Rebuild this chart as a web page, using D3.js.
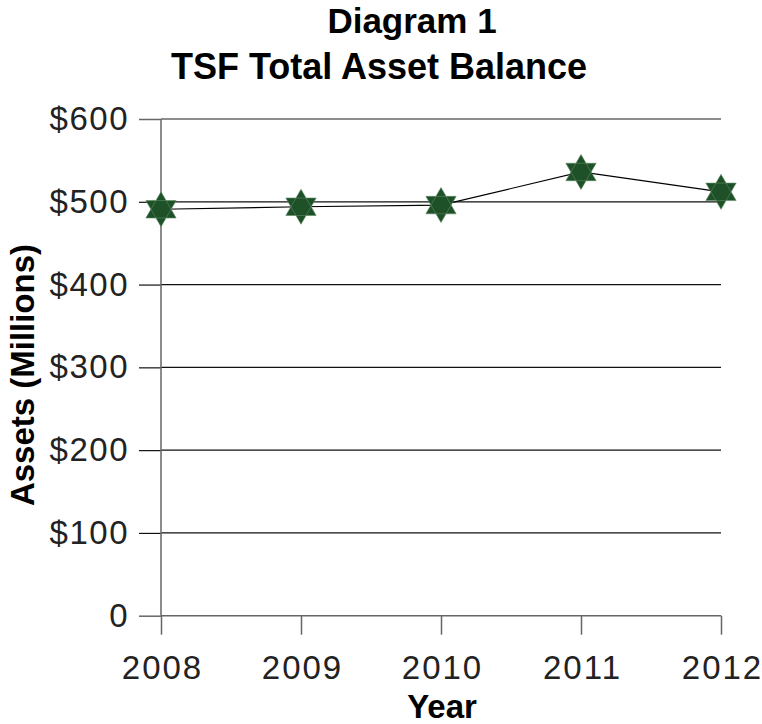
<!DOCTYPE html>
<html lang="en">
<head>
  <meta charset="UTF-8">
  <script src="https://d3js.org/d3.v7.min.js"></script>
  <style>
    body {
      margin: 0;
      padding: 0;
      background-color: #fff;
      font-family: "Liberation Sans", Arial, sans-serif;
    }
    .tick text {
      font-family: "Liberation Sans", Arial, sans-serif;
      fill: #222;
    }
  </style>
</head>
<body>
  <div id="chart"></div>

  <script>
    // data
    const years = ["2008", "2009", "2010", "2011", "2012"];
    const assets = [491, 494, 496, 536, 512];
    const yTicks = [0, 100, 200, 300, 400, 500, 600];

    const width = 762, height = 724;
    const margin = { left: 161, right: 41, top: 119, bottom: 108.3 };

    const svg = d3.select("#chart")
      .append("svg")
      .attr("width", width)
      .attr("height", height);

    const x = d3.scalePoint()
      .domain(years)
      .range([margin.left, width - margin.right]);

    const y = d3.scaleLinear()
      .domain([0, 600])
      .range([height - margin.bottom, margin.top]);

    // horizontal gridlines
    svg.append("g")
      .selectAll("line")
      .data(yTicks)
      .enter()
      .append("line")
      .attr("x1", margin.left)
      .attr("x2", width - margin.right)
      .attr("y1", d => y(d))
      .attr("y2", d => y(d))
      .attr("stroke", d => (d === 0 || d === 600) ? "#666" : "#111")
      .attr("stroke-width", d => (d === 0 || d === 600) ? 1.5 : 1.2);

    // y axis (ticks stick out to the left)
    const yAxis = svg.append("g")
      .attr("transform", `translate(${margin.left},0)`)
      .call(d3.axisLeft(y)
        .tickValues(yTicks)
        .tickSize(22)
        .tickPadding(10)
        .tickFormat(d => d === 0 ? "0" : "$" + d));
    yAxis.select(".domain").remove();
    yAxis.selectAll(".tick line")
      .attr("stroke", d => (d === 0 || d === 600) ? "#666" : "#111")
      .attr("stroke-width", d => (d === 0 || d === 600) ? 1.5 : 1.2);
    yAxis.selectAll(".tick text")
      .attr("font-size", 33)
      .attr("letter-spacing", 1.5);

    svg.append("line")
      .attr("x1", margin.left)
      .attr("x2", margin.left)
      .attr("y1", y(600))
      .attr("y2", y(0))
      .attr("stroke", "#666")
      .attr("stroke-width", 1.5);

    // x axis
    const xAxis = svg.append("g")
      .attr("transform", `translate(0,${y(0)})`)
      .call(d3.axisBottom(x).tickSize(19).tickPadding(21));
    xAxis.select(".domain").remove();
    xAxis.selectAll(".tick line").attr("stroke", "#666").attr("stroke-width", 1.5);
    xAxis.selectAll(".tick text")
      .attr("font-size", 33)
      .attr("letter-spacing", 2)
      .attr("dx", 1);

    // series line
    const line = d3.line()
      .x((d, i) => x(years[i]))
      .y(d => y(d));

    svg.append("path")
      .datum(assets)
      .attr("d", line)
      .attr("fill", "none")
      .attr("stroke", "#000")
      .attr("stroke-width", 1.2);

    // six-pointed star markers
    const star = d3.symbol().type({
      draw(context, size) {
        const r = Math.sqrt(size);
        for (let k = 0; k < 2; k++) {
          const off = k === 0 ? -Math.PI / 2 : Math.PI / 2;
          for (let j = 0; j < 3; j++) {
            const a = off + j * 2 * Math.PI / 3;
            const px = r * Math.cos(a), py = r * Math.sin(a);
            if (j === 0) context.moveTo(px, py); else context.lineTo(px, py);
          }
          context.closePath();
        }
      }
    }).size(17.5 * 17.5);

    svg.append("g")
      .selectAll("path")
      .data(assets)
      .enter()
      .append("path")
      .attr("d", star)
      .attr("transform", (d, i) => `translate(${x(years[i])},${y(d)})`)
      .attr("fill", "#1e5128")
      .attr("fill-rule", "nonzero")
      .attr("stroke", "#5f8a66")
      .attr("stroke-width", 0.6);

    // titles
    svg.append("text")
      .attr("x", 412)
      .attr("y", 33)
      .attr("text-anchor", "middle")
      .attr("font-size", 35)
      .attr("font-weight", "bold")
      .text("Diagram 1");

    svg.append("text")
      .attr("x", 379)
      .attr("y", 79)
      .attr("text-anchor", "middle")
      .attr("font-size", 36)
      .attr("font-weight", "bold")
      .text("TSF Total Asset Balance");

    svg.append("text")
      .attr("x", 442)
      .attr("y", 718)
      .attr("text-anchor", "middle")
      .attr("font-size", 33)
      .attr("font-weight", "bold")
      .text("Year");

    svg.append("text")
      .attr("transform", "translate(34,375) rotate(-90)")
      .attr("text-anchor", "middle")
      .attr("font-size", 33)
      .attr("font-weight", "bold")
      .text("Assets (Millions)");
  </script>
</body>
</html>
